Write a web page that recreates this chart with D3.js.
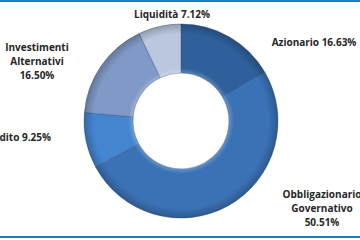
<!DOCTYPE html>
<html>
<head>
<meta charset="utf-8">
<script src="https://d3js.org/d3.v7.min.js"></script>
<style>
  body { margin: 0; background: #fff; }
  svg { display: block; }
  .lbl { font-family: "Open Sans", Lato, sans-serif; font-weight: bold; font-size: 10px; fill: #262626; }
</style>
</head>
<body>
<svg width="360" height="240"></svg>
<script>
// data
var categories = ["Azionario", "Obbligazionario Governativo", "Credito", "Investimenti Alternativi", "Liquidità"];
var values = [16.63, 50.51, 9.25, 16.50, 7.12];
var colors = ["#2f609c", "#3b72b6", "#4485d0", "#8099c6", "#bac7de"];

// where Excel put each label (lines, anchor point, alignment)
var labelLayout = [
  { lines: ["Azionario  16.63%"], x: 314, y: 42, anchor: "middle" },
  { lines: ["Obbligazionario", "Governativo", "50.51%"], x: 322, y: 194, anchor: "middle" },
  { lines: ["Credito 9.25%"], x: 51, y: 137, anchor: "end" },
  { lines: ["Investimenti", "Alternativi", "16.50%"], x: 37, y: 47, anchor: "middle" },
  { lines: ["Liquidità  7.12%"], x: 172, y: 14, anchor: "middle" }
];

var svg = d3.select("svg");
var cx = 181, cy = 121, rOut = 97, rIn = 48;

var data = categories.map(function(c, i) { return { name: c, value: values[i], i: i }; });

var pie = d3.pie().sort(null).value(function(d) { return d.value; });
var arc = d3.arc().innerRadius(rIn).outerRadius(rOut);

// bevel shading, centred on the donut (in the group's own coordinates)
var defs = svg.append("defs");
var grad = defs.append("radialGradient")
  .attr("id", "bevel")
  .attr("gradientUnits", "userSpaceOnUse")
  .attr("cx", 0).attr("cy", 0).attr("r", rOut);
[[rIn / rOut, "#fff", 0.22], [rIn / rOut + 0.05, "#fff", 0.0], [0.9, "#000", 0.0], [1, "#000", 0.22]]
  .forEach(function(s) {
    grad.append("stop").attr("offset", s[0]).attr("stop-color", s[1]).attr("stop-opacity", s[2]);
  });

// blue rules at top and bottom
svg.append("rect").attr("x", 0).attr("y", 0).attr("width", 360).attr("height", 2).attr("fill", "#1f7bcc");
svg.append("rect").attr("x", 0).attr("y", 236).attr("width", 360).attr("height", 2).attr("fill", "#1f7bcc");

var g = svg.append("g").attr("transform", "translate(" + cx + "," + cy + ")");

g.selectAll("path.slice")
  .data(pie(data))
  .enter()
  .append("path")
  .attr("class", "slice")
  .attr("d", arc)
  .attr("fill", function(d) { return colors[d.data.i]; })
  .attr("stroke", "#2a4f7c")
  .attr("stroke-opacity", 0.5)
  .attr("stroke-width", 0.8);

g.append("path")
  .attr("d", d3.arc().innerRadius(rIn).outerRadius(rOut).startAngle(0).endAngle(2 * Math.PI)())
  .attr("fill", "url(#bevel)")
  .style("pointer-events", "none");

// labels
labelLayout.forEach(function(l) {
  var t = svg.append("text")
    .attr("class", "lbl")
    .attr("text-anchor", l.anchor)
    .attr("x", l.x)
    .attr("y", l.y);
  l.lines.forEach(function(line, k) {
    t.append("tspan")
      .attr("x", l.x)
      .attr("dy", k == 0 ? "0.35em" : 14)
      .text(line);
  });
});
</script>
</body>
</html>
